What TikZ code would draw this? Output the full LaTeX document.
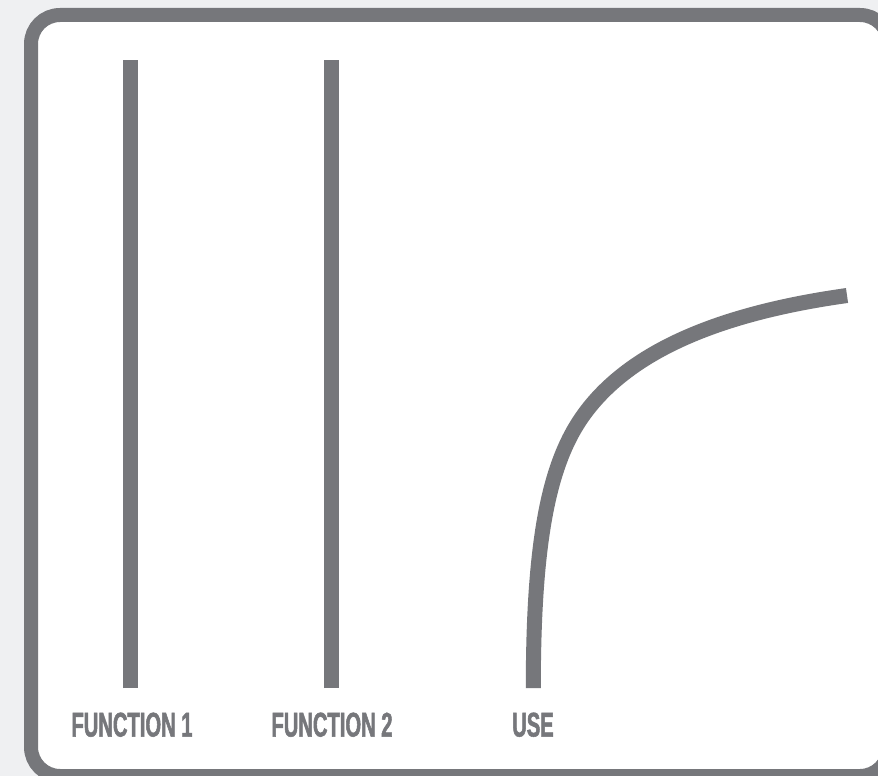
\documentclass[tikz,border=0pt]{standalone}
\usepackage{fontspec}
\newfontfamily\labelfont[FakeStretch=0.59, FakeBold=1.5]{Liberation Sans}
\definecolor{bggray}{HTML}{EFF0F2}
\definecolor{inkgray}{HTML}{76777B}
\tikzset{
  frame/.style={draw=inkgray, line width=14pt, fill=white, rounded corners=29pt},
  bar/.style={draw=inkgray, line width=15pt},
  lbl/.style={text=inkgray, font=\labelfont\bfseries\fontsize{34.2pt}{36pt}\selectfont, anchor=base, inner sep=0pt}
}
\begin{document}
\begin{tikzpicture}[x=1pt,y=-1pt]
\fill[bggray] (0,0) rectangle (878,776);
\useasboundingbox (0,0) rectangle (878,776);
\draw[frame] (31,15) rectangle (889,776);
\coordinate (f1top) at (130.5,60);
\coordinate (f1bot) at (130.5,688);
\coordinate (f2top) at (331.5,60);
\coordinate (f2bot) at (331.5,688);
\coordinate (ubot) at (533.3,688);
\coordinate (ubend) at (585,413);
\coordinate (uend) at (847,295.5);
\draw[bar] (f1bot) -- (f1top);
\draw[bar] (f2bot) -- (f2top);
\draw[bar] (ubot) .. controls (533.3,538) and (549.3,461.2) .. (ubend)
  .. controls (626.7,356.7) and (707,315.1) .. (uend);
\node[lbl] (l1) at (132,736.5) {FUNCTION 1};
\node[lbl] (l2) at (332,736.5) {FUNCTION 2};
\node[lbl] (l3) at (533,736.5) {USE};
\end{tikzpicture}
\end{document}
